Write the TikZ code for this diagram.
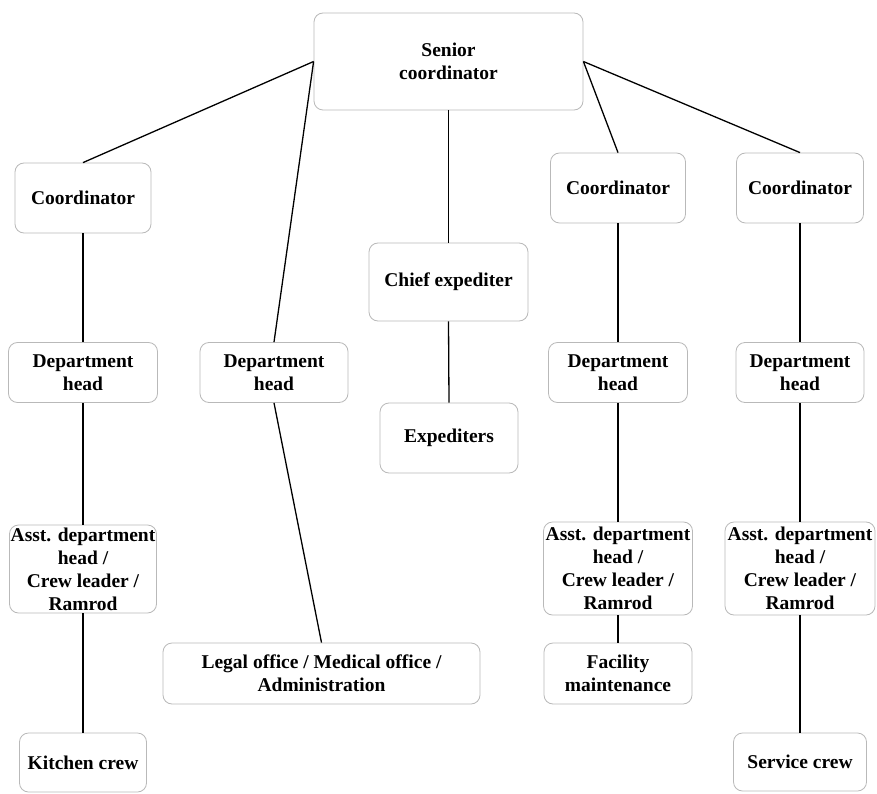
\documentclass[tikz,border=0pt]{standalone}
\usepackage{fontspec}
\setmainfont{Liberation Serif}
\begin{document}
\begin{tikzpicture}[x=1pt,y=-1pt,
  box/.style={draw=gray!55, line width=0.8pt, rounded corners=9pt, align=center,
    inner sep=0pt, font=\bfseries\fontsize{19.5}{23}\selectfont, fill=white},
  link/.style={draw=black, line width=1.3pt}]
\useasboundingbox[fill=white] (0,0) rectangle (877,794);
% top
\node[box, minimum width=269pt, minimum height=97pt] (sen) at (448.5,61.5) {Senior\\coordinator};
% left column
\node[box, minimum width=136pt, minimum height=70pt] (cl) at (83,198) {Coordinator};
\node[box, minimum width=149pt, minimum height=60pt] (dl) at (83,372.5) {Department\\head};
\node[box, minimum width=147pt, minimum height=88pt] (al) at (83,569) {Asst. department\\head /\\Crew leader /\\Ramrod};
\node[box, minimum width=127pt, minimum height=59pt] (kc) at (83,762.5) {Kitchen crew};
% second column
\node[box, minimum width=148pt, minimum height=60pt] (d2) at (274,372.5) {Department\\head};
\node[box, minimum width=317pt, minimum height=61pt] (lg) at (321.5,673.5) {Legal office / Medical office /\\Administration};
% middle
\node[box, minimum width=159pt, minimum height=78pt] (ce) at (448.5,282) {Chief expediter};
\node[box, minimum width=138pt, minimum height=70pt] (ex) at (449,438) {Expediters};
% middle-right column
\node[box, minimum width=135pt, minimum height=70pt] (cm) at (618,188) {Coordinator};
\node[box, minimum width=139pt, minimum height=60pt] (dm) at (618,372.5) {Department\\head};
\node[box, minimum width=149pt, minimum height=93pt] (am) at (618,568.5) {Asst. department\\head /\\Crew leader /\\Ramrod};
\node[box, minimum width=148pt, minimum height=61pt] (fm) at (618,673.5) {Facility\\maintenance};
% right column
\node[box, minimum width=127pt, minimum height=70pt] (cr) at (800,188) {Coordinator};
\node[box, minimum width=128pt, minimum height=60pt] (dr) at (800,372.5) {Department\\head};
\node[box, minimum width=150pt, minimum height=93pt] (ar) at (800,568.5) {Asst. department\\head /\\Crew leader /\\Ramrod};
\node[box, minimum width=133pt, minimum height=58pt] (sc) at (800,762) {Service crew};
% connectors
\draw[link] (sen.west) -- (cl.north);
\draw[link] (sen.west) -- (d2.north);
\draw[link] (d2.south) -- (lg.north);
\draw[link] (sen.south) -- (ce.north);
\draw[link] (ce.south) -- (ex.north);
\draw[link] (sen.east) -- (cm.north);
\draw[link] (sen.east) -- (cr.north);
\draw[link] (cl.south) -- (dl.north);
\draw[link] (dl.south) -- (al.north);
\draw[link] (al.south) -- (kc.north);
\draw[link] (cm.south) -- (dm.north);
\draw[link] (dm.south) -- (am.north);
\draw[link] (am.south) -- (fm.north);
\draw[link] (cr.south) -- (dr.north);
\draw[link] (dr.south) -- (ar.north);
\draw[link] (ar.south) -- (sc.north);
\end{tikzpicture}
\end{document}
